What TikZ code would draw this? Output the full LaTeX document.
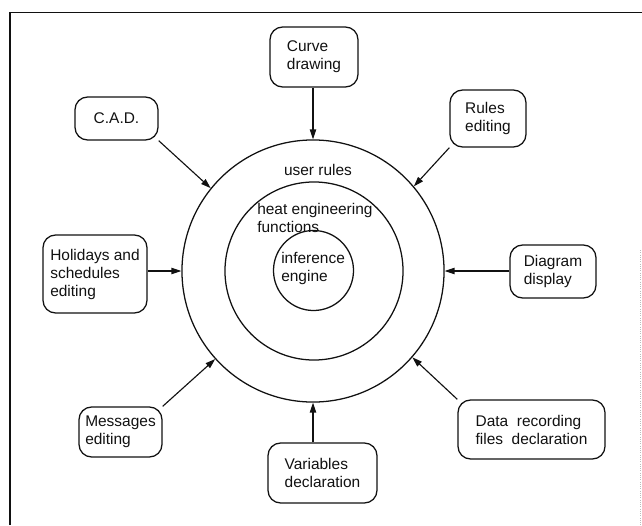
\documentclass[tikz,border=0pt]{standalone}
\usepackage{fontspec}
\setmainfont{Liberation Sans}
\usepackage{xcolor}
\definecolor{inkBlack}{HTML}{111111}
\definecolor{scanGray}{HTML}{BBBBBB}
\usepackage{tikz}
\usetikzlibrary{
    arrows.meta,
    positioning,
    calc
}
\tikzset{
    % Base style for all texts
    plain text/.style={
        font=\fontsize{11}{12.8}\selectfont,
        align=left,
        text=inkBlack,
    },
    % Rounded boxes around the rings
    module/.style={
        plain text,
        rectangle,
        rounded corners=9pt,
        draw=inkBlack,
        line width=0.9pt,
        inner sep=2pt,
    },
    % Concentric rings
    ring/.style={
        circle,
        draw=inkBlack,
        line width=0.9pt,
        inner sep=0pt,
    },
    % Arrow into the rings
    arrow/.style={
        -{Triangle[length=7pt, width=4.5pt]},
        line width=0.8pt,
        draw=inkBlack,
    },
}

\begin{document}
\begin{tikzpicture}[x=0.025cm, y=-0.025cm]
    \useasboundingbox (0,0) rectangle (642,525);

    % frame of the page
    \draw [inkBlack, line width=1.1pt] (10,525) -- (10,12.5) -- (642,12.5);
    \draw [scanGray, densely dotted, line width=0.6pt] (640,250) -- (640,525);

    % rings
    \node (outer) [ring, minimum size=6.55cm] at (313,271) {};
    \node (middle) [ring, minimum size=4.45cm] at (314,271) {};
    \node (inner) [ring, minimum size=2.0cm] at (313.5,270.5) {};

    \node (userlbl) [plain text] at (318,170) {user rules};
    \node (heatlbl) [plain text, anchor=west, inner sep=0pt] at (257,218) {heat engineering\\functions};
    \node (inflbl) [plain text, anchor=west, inner sep=0pt] at (281,268) {inference\\engine};

    % modules
    \node (curve) [module, minimum width=2.2cm, minimum height=1.5cm] at (314,57) {Curve\\drawing};
    \node (cad) [module, minimum width=2.075cm, minimum height=1.075cm] at (116.5,118.5) {C.A.D.};
    \node (rules) [module, minimum width=1.9cm, minimum height=1.425cm] at (488,118.5) {Rules\\editing};
    \node (holidays) [module, minimum width=2.6cm, minimum height=1.95cm] at (95,274) {Holidays and\\schedules\\editing};
    \node (diagram) [module, minimum width=2.15cm, minimum height=1.325cm] at (553,271.5) {Diagram\\display};
    \node (messages) [module, minimum width=2.075cm, minimum height=1.25cm] at (120.5,432) {Messages\\editing};
    \node (variables) [module, minimum width=2.725cm, minimum height=1.5cm] at (322.5,473) {Variables\\declaration};
    \node (data) [module, minimum width=3.675cm, minimum height=1.475cm] at (531.5,429.5) {Data\ \ recording\\files\ \ declaration};

    % arrows into the outer ring
    \draw [arrow] (curve.south -| outer.north) -- (outer.north);
    \draw [arrow] (cad.south east) -- (outer.141);
    \draw [arrow] (rules.south west) -- (outer.40);
    \draw [arrow] (holidays.east |- outer.west) -- (outer.west);
    \draw [arrow] (diagram.west |- outer.east) -- (outer.east);
    \draw [arrow] (messages.north east) -- (outer.222);
    \draw [arrow] (variables.north -| outer.south) -- (outer.south);
    \draw [arrow] (data.north west) -- (outer.319);
\end{tikzpicture}
\end{document}
